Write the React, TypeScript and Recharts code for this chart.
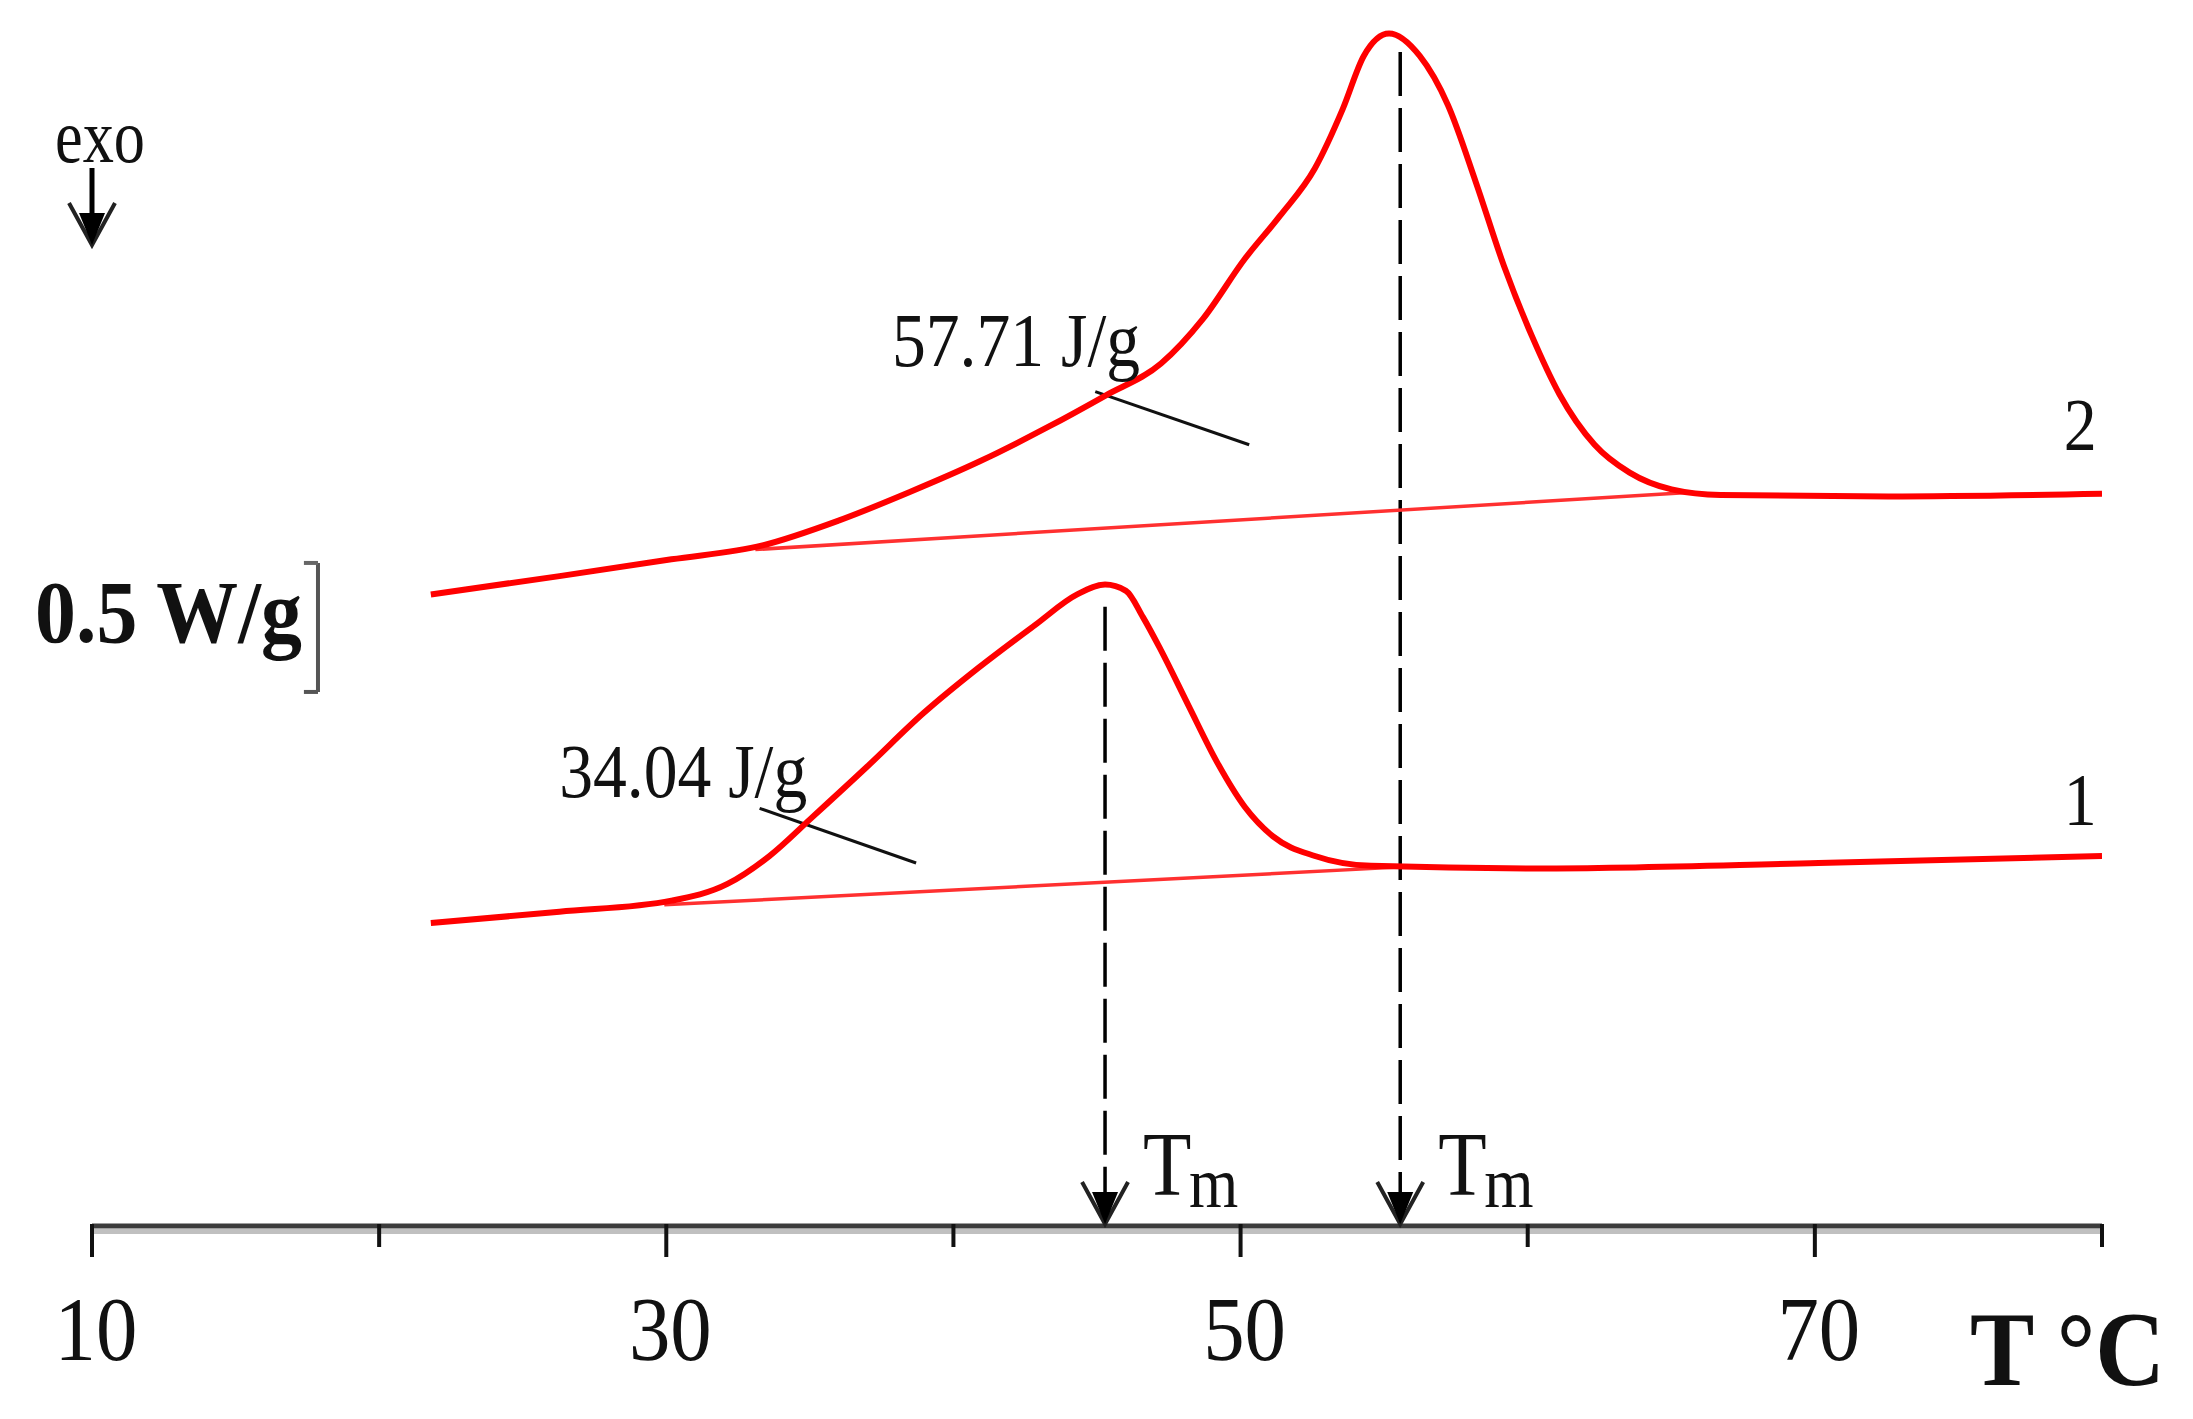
import { LineChart, Line, XAxis, YAxis, ReferenceLine, ReferenceDot } from 'recharts'

// DSC traces: temperature (°C) and heat flow (W/g, shifted for display)
const run1Temp = [21.8, 26.28, 30.18, 32.13, 33.59, 35.05, 37.0, 38.95, 40.9, 42.84, 44.31, 45.28, 46.01, 46.6, 47.23, 48.2, 49.18, 50.15, 51.13, 52.59, 54.54, 60.38, 70.13, 80]
const run1Flow = [1.174, 1.218, 1.261, 1.326, 1.434, 1.581, 1.781, 1.987, 2.166, 2.329, 2.448, 2.486, 2.462, 2.36, 2.231, 2.014, 1.798, 1.624, 1.51, 1.434, 1.396, 1.386, 1.407, 1.434]

const run2Temp = [21.8, 26.28, 30.18, 33.35, 36.02, 38.46, 40.9, 43.33, 45.28, 47.23, 48.69, 50.15, 51.37, 52.59, 53.56, 54.29, 55.17, 56.24, 57.22, 58.19, 59.17, 60.14, 61.11, 62.33, 63.55, 65.01, 66.72, 72.56, 80]
const run2Flow = [2.448, 2.519, 2.584, 2.638, 2.735, 2.844, 2.963, 3.099, 3.218, 3.343, 3.516, 3.749, 3.915, 4.1, 4.33, 4.535, 4.622, 4.535, 4.345, 4.047, 3.722, 3.451, 3.223, 3.028, 2.92, 2.855, 2.833, 2.828, 2.838]

// integration baselines
const base1Temp = [29.93, 55.51]
const base1Flow = [1.245, 1.391]
const base2Temp = [33.1, 65.74]
const base2Flow = [2.622, 2.844]

// melting peaks (Tm) and enthalpies
const peakTemps = [45.28, 55.56]
const peakTops = [2.4, 4.55]
const enthalpyLabels = ['34.04 J/g', '57.71 J/g']
const runLabels = ['1', '2']

const tickValues = [10, 20, 30, 40, 50, 60, 70, 80]
const labelledTicks = [10, 30, 50, 70]

const toRows = (t: number[], q: number[]) => t.map((T, i) => ({ T, q: q[i] }))

const FONT = "'Liberation Serif', 'Times New Roman', serif"

function Txt({ x, y, size, sx = 0.9, bold = false, anchor = 'start', children }: any) {
  return (
    <text
      transform={`translate(${x},${y}) scale(${sx},1)`}
      fontFamily={FONT}
      fontSize={size}
      fontWeight={bold ? 700 : 400}
      textAnchor={anchor}
      fill="#111"
    >
      {children}
    </text>
  )
}

function TempTick({ x, y, payload }: any) {
  const major = labelledTicks.includes(payload.value)
  return (
    <g>
      <line x1={x} x2={x} y1={y - 2} y2={y + (major ? 31 : 21)} stroke="#111" strokeWidth={4} />
      {major && <Txt x={x + 4} y={y + 134} size={92} anchor="middle">{payload.value}</Txt>}
    </g>
  )
}

function Arrow({ cx, cy }: { cx: number; cy: number }) {
  return (
    <g>
      <path d={`M${cx - 23},${cy - 42} L${cx},${cy} L${cx + 23},${cy - 42}`} fill="none" stroke="#222" strokeWidth={4} />
      <path d={`M${cx - 13},${cy - 32} L${cx + 13},${cy - 32} L${cx},${cy} Z`} fill="#000" />
    </g>
  )
}

const tmShape = (props: any) => {
  const { cx, cy } = props
  return (
    <g>
      <Arrow cx={cx} cy={cy - 2} />
      <Txt x={cx + 38} y={cy - 31} size={90} sx={0.88}>T</Txt>
      <Txt x={cx + 84} y={cy - 19} size={72} sx={0.88}>m</Txt>
    </g>
  )
}

const noteShape = (text: string, anchor: string, size: number) => (props: any) => (
  <Txt x={props.cx} y={props.cy} size={size} sx={0.89} anchor={anchor}>{text}</Txt>
)

// where the enthalpy / run number notes sit (data coords)
const enthalpyAt = [{ T: 26.27, q: 1.663 }, { T: 37.86, q: 3.333 }]
const leaderFrom = [{ T: 33.25, q: 1.619 }, { T: 44.94, q: 3.234 }]
const leaderTo = [{ T: 38.7, q: 1.407 }, { T: 50.3, q: 3.028 }]
const runLabelAt = [{ T: 79.24, q: 1.554 }, { T: 79.24, q: 3.008 }]

export default function App() {
  return (
    <div style={{ position: 'absolute', left: 0, top: 0, width: 2193, height: 1419, background: '#fff' }}>
      <LineChart width={2193} height={1419} margin={{ top: 0, right: 91, left: 92, bottom: 0 }}>
        <XAxis
          type="number"
          dataKey="T"
          domain={[10, 80]}
          ticks={tickValues}
          interval={0}
          height={193}
          tickLine={false}
          tickSize={0}
          tickMargin={0}
          axisLine={{ stroke: '#3c3c3c', strokeWidth: 5 }}
          tick={<TempTick />}
          allowDataOverflow
        />
        <YAxis hide type="number" domain={[0, 4.752]} allowDataOverflow />

        <ReferenceLine y={-0.021} stroke="#c0c0c0" strokeWidth={5} ifOverflow="visible" />

        {/* 0.5 W/g scale bracket */}
        <ReferenceLine segment={[{ x: 17.87, y: 2.07 }, { x: 17.87, y: 2.57 }]} stroke="#555" strokeWidth={4} />
        <ReferenceLine segment={[{ x: 17.38, y: 2.57 }, { x: 17.87, y: 2.57 }]} stroke="#666" strokeWidth={4} />
        <ReferenceLine segment={[{ x: 17.38, y: 2.07 }, { x: 17.87, y: 2.07 }]} stroke="#555" strokeWidth={4} />

        {peakTemps.map((t, i) => (
          <ReferenceLine
            key={'tm' + i}
            segment={[{ x: t, y: peakTops[i] }, { x: t, y: 0.12 }]}
            stroke="#000"
            strokeWidth={3.5}
            strokeDasharray="44 12"
          />
        ))}
        {peakTemps.map((t, i) => (
          <ReferenceDot key={'ar' + i} x={t} y={0} r={0} shape={tmShape} ifOverflow="visible" />
        ))}

        {leaderFrom.map((p, i) => (
          <ReferenceLine
            key={'ld' + i}
            segment={[{ x: p.T, y: p.q }, { x: leaderTo[i].T, y: leaderTo[i].q }]}
            stroke="#111"
            strokeWidth={3}
          />
        ))}
        {enthalpyAt.map((p, i) => (
          <ReferenceDot key={'en' + i} x={p.T} y={p.q} r={0} shape={noteShape(enthalpyLabels[i], 'start', 76)} />
        ))}
        {runLabelAt.map((p, i) => (
          <ReferenceDot key={'rl' + i} x={p.T} y={p.q} r={0} shape={noteShape(runLabels[i], 'middle', 74)} />
        ))}

        <Line data={toRows(base1Temp, base1Flow)} dataKey="q" type="linear" stroke="#ff3030" strokeWidth={3.5} dot={false} activeDot={false} isAnimationActive={false} />
        <Line data={toRows(base2Temp, base2Flow)} dataKey="q" type="linear" stroke="#ff3030" strokeWidth={3.5} dot={false} activeDot={false} isAnimationActive={false} />
        <Line data={toRows(run1Temp, run1Flow)} dataKey="q" type="monotone" stroke="#ff0000" strokeWidth={6} dot={false} activeDot={false} isAnimationActive={false} />
        <Line data={toRows(run2Temp, run2Flow)} dataKey="q" type="monotone" stroke="#ff0000" strokeWidth={6} dot={false} activeDot={false} isAnimationActive={false} />
      </LineChart>

      <svg width={2193} height={1419} style={{ position: 'absolute', left: 0, top: 0, pointerEvents: 'none' }}>
        <Txt x={55} y={162} size={76} sx={0.82}>exo</Txt>
        <line x1={92} x2={92} y1={168} y2={236} stroke="#000" strokeWidth={5} />
        <Arrow cx={92} cy={245} />
        <Txt x={35} y={642} size={89} sx={0.92} bold>0.5 W/g</Txt>
        <Txt x={1970} y={1385} size={106} sx={0.91} bold>T °C</Txt>
      </svg>
    </div>
  )
}
